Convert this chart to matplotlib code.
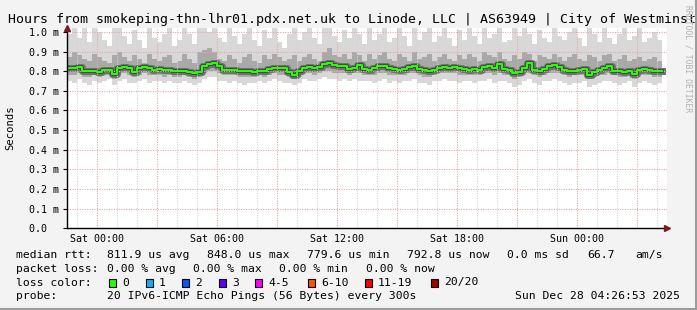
import matplotlib
matplotlib.use("Agg")
import matplotlib.pyplot as plt
import matplotlib.dates as mdates
from matplotlib.patches import Rectangle
from matplotlib.lines import Line2D
import pandas as pd

W, H = 697, 310
MONO = "DejaVu Sans Mono"

title = "Hours from smokeping-thn-lhr01.pdx.net.uk to Linode, LLC | AS63949 | City of Westminst"

# 15-minute samples, median rtt in ms
times = pd.date_range("2025-12-26 22:30", periods=120, freq="15min")

median = [
    0.814, 0.816, 0.822, 0.803, 0.800, 0.802, 0.798, 0.808, 0.806, 0.784,
    0.818, 0.821, 0.815, 0.795, 0.818, 0.822, 0.816, 0.806, 0.809, 0.805,
    0.807, 0.802, 0.800, 0.803, 0.798, 0.790, 0.795, 0.826, 0.838, 0.842,
    0.828, 0.808, 0.804, 0.806, 0.803, 0.800, 0.802, 0.798, 0.801, 0.800,
    0.812, 0.816, 0.814, 0.817, 0.796, 0.783, 0.801, 0.818, 0.821, 0.816,
    0.822, 0.836, 0.843, 0.832, 0.826, 0.829, 0.812, 0.818, 0.832, 0.812,
    0.808, 0.815, 0.828, 0.826, 0.814, 0.810, 0.808, 0.811, 0.822, 0.828,
    0.812, 0.804, 0.800, 0.806, 0.817, 0.822, 0.818, 0.821, 0.816, 0.810,
    0.806, 0.812, 0.808, 0.823, 0.826, 0.818, 0.835, 0.812, 0.808, 0.792,
    0.795, 0.818, 0.841, 0.806, 0.800, 0.812, 0.828, 0.830, 0.822, 0.804,
    0.800, 0.803, 0.808, 0.812, 0.781, 0.798, 0.808, 0.815, 0.829, 0.802,
    0.800, 0.798, 0.801, 0.784, 0.806, 0.810, 0.808, 0.800, 0.801, 0.799,
]

smoke_max = [
    0.99, 1.02, 0.97, 1.02, 0.95, 1.02, 1.00, 0.96, 0.93, 1.02,
    1.02, 0.98, 0.94, 1.01, 0.96, 0.92, 1.02, 0.97, 0.95, 0.99,
    1.02, 0.93, 0.96, 1.02, 0.99, 0.94, 1.02, 1.02, 1.00, 1.02,
    0.97, 0.95, 1.02, 0.98, 0.94, 0.99, 1.02, 0.96, 0.93, 1.01,
    0.97, 1.02, 0.95, 0.92, 0.99, 1.02, 0.96, 1.00, 1.02, 0.97,
    0.94, 1.02, 1.02, 0.98, 0.95, 1.01, 0.97, 1.02, 0.99, 0.94,
    1.02, 0.96, 0.99, 1.02, 0.95, 0.97, 1.02, 0.98, 0.93, 1.02,
    0.96, 1.00, 1.02, 0.95, 0.98, 1.02, 0.97, 0.93, 1.01, 0.96,
    1.02, 0.98, 0.94, 1.02, 0.97, 0.99, 1.02, 0.95, 0.96, 1.02,
    0.98, 1.02, 0.99, 0.94, 1.01, 0.97, 0.95, 1.02, 0.98, 0.96,
    1.00, 1.02, 0.97, 0.93, 1.02, 0.99, 0.95, 1.02, 0.97, 0.94,
    0.99, 1.02, 0.96, 0.98, 1.02, 0.95, 0.97, 1.00, 0.96, 0.93,
]

smoke_hi = [
    0.87, 0.90, 0.88, 0.86, 0.85, 0.89, 0.87, 0.85, 0.84, 0.88,
    0.90, 0.87, 0.85, 0.88, 0.86, 0.84, 0.89, 0.86, 0.85, 0.87,
    0.88, 0.84, 0.85, 0.89, 0.86, 0.84, 0.90, 0.91, 0.92, 0.90,
    0.86, 0.85, 0.88, 0.86, 0.84, 0.87, 0.89, 0.85, 0.84, 0.88,
    0.86, 0.89, 0.87, 0.85, 0.86, 0.88, 0.85, 0.87, 0.89, 0.86,
    0.85, 0.90, 0.92, 0.88, 0.87, 0.89, 0.86, 0.90, 0.88, 0.85,
    0.89, 0.86, 0.88, 0.90, 0.86, 0.85, 0.89, 0.87, 0.85, 0.90,
    0.86, 0.87, 0.89, 0.85, 0.87, 0.89, 0.86, 0.85, 0.88, 0.86,
    0.89, 0.87, 0.85, 0.90, 0.88, 0.87, 0.90, 0.86, 0.85, 0.88,
    0.86, 0.90, 0.89, 0.85, 0.88, 0.87, 0.86, 0.89, 0.87, 0.85,
    0.87, 0.89, 0.86, 0.85, 0.88, 0.87, 0.85, 0.88, 0.89, 0.85,
    0.86, 0.88, 0.85, 0.86, 0.87, 0.85, 0.86, 0.87, 0.85, 0.84,
]

smoke_lo = [
    0.78, 0.78, 0.79, 0.77, 0.77, 0.78, 0.77, 0.78, 0.78, 0.76,
    0.79, 0.79, 0.78, 0.77, 0.78, 0.79, 0.78, 0.78, 0.78, 0.77,
    0.78, 0.77, 0.77, 0.78, 0.77, 0.76, 0.77, 0.79, 0.80, 0.80,
    0.79, 0.78, 0.78, 0.78, 0.77, 0.77, 0.77, 0.77, 0.78, 0.77,
    0.78, 0.79, 0.78, 0.78, 0.77, 0.76, 0.77, 0.79, 0.79, 0.78,
    0.79, 0.80, 0.80, 0.79, 0.79, 0.79, 0.78, 0.79, 0.79, 0.78,
    0.78, 0.78, 0.79, 0.79, 0.78, 0.78, 0.78, 0.78, 0.79, 0.79,
    0.78, 0.77, 0.77, 0.78, 0.79, 0.79, 0.79, 0.79, 0.78, 0.78,
    0.78, 0.78, 0.78, 0.79, 0.79, 0.78, 0.79, 0.78, 0.78, 0.76,
    0.77, 0.79, 0.79, 0.78, 0.77, 0.78, 0.79, 0.79, 0.79, 0.78,
    0.77, 0.78, 0.78, 0.78, 0.76, 0.77, 0.78, 0.78, 0.79, 0.78,
    0.77, 0.77, 0.78, 0.76, 0.78, 0.78, 0.78, 0.77, 0.77, 0.77,
]

smoke_min = [
    0.75, 0.74, 0.76, 0.74, 0.73, 0.75, 0.74, 0.75, 0.76, 0.73,
    0.75, 0.76, 0.74, 0.74, 0.75, 0.76, 0.74, 0.75, 0.75, 0.74,
    0.75, 0.74, 0.74, 0.75, 0.74, 0.73, 0.74, 0.76, 0.77, 0.77,
    0.75, 0.75, 0.74, 0.75, 0.74, 0.73, 0.74, 0.74, 0.75, 0.74,
    0.75, 0.76, 0.75, 0.74, 0.74, 0.73, 0.74, 0.76, 0.75, 0.75,
    0.76, 0.77, 0.76, 0.76, 0.75, 0.76, 0.75, 0.76, 0.75, 0.75,
    0.75, 0.74, 0.75, 0.76, 0.74, 0.75, 0.74, 0.75, 0.75, 0.76,
    0.74, 0.74, 0.73, 0.75, 0.75, 0.76, 0.75, 0.75, 0.74, 0.75,
    0.75, 0.74, 0.75, 0.75, 0.76, 0.74, 0.75, 0.75, 0.74, 0.72,
    0.73, 0.75, 0.76, 0.74, 0.73, 0.75, 0.75, 0.76, 0.75, 0.74,
    0.73, 0.74, 0.74, 0.75, 0.72, 0.73, 0.74, 0.75, 0.75, 0.74,
    0.73, 0.74, 0.75, 0.72, 0.74, 0.75, 0.74, 0.73, 0.74, 0.74,
]

y_ticks = [0.0, 0.1, 0.2, 0.3, 0.4, 0.5, 0.6, 0.7, 0.8, 0.9, 1.0]
y_labels = ["0.0  "] + [f"{v:.1f} m" for v in y_ticks[1:]]
x_labels = ["2025-12-27 00:00", "2025-12-27 06:00", "2025-12-27 12:00",
            "2025-12-27 18:00", "2025-12-28 00:00"]

stats_rtt = [("median rtt:", 16), ("811.9 us avg", 107), ("848.0 us max", 207),
             ("779.6 us min", 307), ("792.8 us now", 407), ("0.0 ms sd", 507),
             ("66.7", 587), ("am/s", 635)]
stats_loss = [("packet loss:", 16), ("0.00 % avg", 107), ("0.00 % max", 193),
              ("0.00 % min", 279), ("0.00 % now", 366)]
loss_labels = ["0", "1", "2", "3", "4-5", "6-10", "11-19", "20/20"]
loss_colors = ["#26ff00", "#00b8ff", "#0059ff", "#5e00ff", "#ff00ff",
               "#ff5500", "#ff0000", "#a10000"]
loss_x = [109, 146, 182, 219, 255, 308, 365, 431]
probe_text = "20 IPv6-ICMP Echo Pings (56 Bytes) every 300s"
stamp = "Sun Dec 28 04:26:53 2025"


def fx(x):
    return x / W


def fy(y):
    return 1 - y / H


fig = plt.figure(figsize=(W / 100, H / 100), dpi=100, facecolor="#f3f3f3")
ax = fig.add_axes([fx(67), fy(228.3), (667 - 67) / W, (228.3 - 28) / H])
ax.set_facecolor("white")

x0 = pd.Timestamp("2025-12-26 22:30")
x1 = pd.Timestamp("2025-12-28 04:30")
ax.set_xlim(x0, x1)
ax.set_ylim(0, 1.02)

ax.fill_between(times, smoke_min, smoke_max, step="post", color="#d8d8d8", lw=0, zorder=1)
ax.fill_between(times, smoke_lo, smoke_hi, step="post", color="#a9a9a9", lw=0, zorder=1.1)
ax.plot(times, median, drawstyle="steps-post", color="#707070", lw=5, zorder=1.2)
ax.plot(times, median, drawstyle="steps-post", color="#3a3a3a", lw=2.6, zorder=1.3)
ax.plot(times, median, drawstyle="steps-post", color=loss_colors[0], lw=1.5, zorder=4)

# grid: hourly grey, 3-hourly red, red horizontals
for h in pd.date_range(x0 + pd.Timedelta("30min"), x1, freq="1h"):
    red = h.hour % 3 == 0
    ax.axvline(h, color="#e8a8a8" if red else "#d4d4d4", lw=0.8,
               ls=(0, (1, 1.2)), zorder=3)
for v in y_ticks[1:]:
    ax.axhline(v, color="#e8a8a8", lw=0.8, ls=(0, (1, 1.2)), zorder=3)

ax.set_yticks(y_ticks)
ax.set_yticklabels(y_labels, family=MONO, fontsize=7.2)
ax.set_xticks([pd.Timestamp(t) for t in x_labels])
ax.xaxis.set_major_formatter(mdates.DateFormatter("%a %H:%M"))
for lab in ax.get_xticklabels():
    lab.set_family(MONO)
    lab.set_fontsize(7.2)
ax.tick_params(axis="y", length=3, width=0.8, pad=3, color="black")
ax.tick_params(axis="x", length=0, pad=4)

for s in ["top", "right"]:
    ax.spines[s].set_visible(False)
for s in ["left", "bottom"]:
    ax.spines[s].set_color("black")
    ax.spines[s].set_linewidth(1.0)
    ax.spines[s].set_zorder(5)

ax.plot(1.0, 0, marker=">", color="#7a1c1c", markersize=4, transform=ax.transAxes,
        clip_on=False, zorder=6)
ax.plot(0, 1.0, marker="^", color="#7a1c1c", markersize=4, transform=ax.transAxes,
        clip_on=False, zorder=6)

fig.text(fx(10), fy(128), "Seconds", family=MONO, fontsize=7.6, rotation=90,
         va="center", ha="center")

fig.text(fx(8), fy(20), title, family=MONO, fontsize=9.5, va="center", ha="left")
fig.text(fx(688), fy(5), "RRDTOOL / TOBI OETIKER", family=MONO, fontsize=5.8,
         color="#b0b0b0", rotation=270, va="top", ha="center")

legend_y = [255, 268.5, 282.5, 296]
for label, x in stats_rtt:
    fig.text(fx(x), fy(legend_y[0]), label, family=MONO, fontsize=8.2, va="center")
for label, x in stats_loss:
    fig.text(fx(x), fy(legend_y[1]), label, family=MONO, fontsize=8.2, va="center")
fig.text(fx(16), fy(legend_y[2]), "loss color:", family=MONO, fontsize=8.2, va="center")
for label, col, x in zip(loss_labels, loss_colors, loss_x):
    fig.patches.append(Rectangle((fx(x), fy(legend_y[2] + 4)), 7 / W, 8 / H,
                                 transform=fig.transFigure, facecolor=col,
                                 edgecolor="black", lw=0.8))
    fig.text(fx(x + 13), fy(legend_y[2]), label, family=MONO, fontsize=8.2, va="center")
fig.text(fx(16), fy(legend_y[3]), "probe:", family=MONO, fontsize=8.2, va="center")
fig.text(fx(107), fy(legend_y[3]), probe_text, family=MONO, fontsize=8.2, va="center")
fig.text(fx(680), fy(legend_y[3]), stamp, family=MONO, fontsize=8.2, va="center", ha="right")

# frame shading around the image
fig.lines.append(Line2D([0, 1], [fy(308.5)] * 2, transform=fig.transFigure,
                        color="#9c9c9c", lw=2.2))
fig.lines.append(Line2D([fx(695.5)] * 2, [0, 1], transform=fig.transFigure,
                        color="#9c9c9c", lw=2.2))

fig.savefig("out.png", dpi=100, facecolor=fig.get_facecolor())
